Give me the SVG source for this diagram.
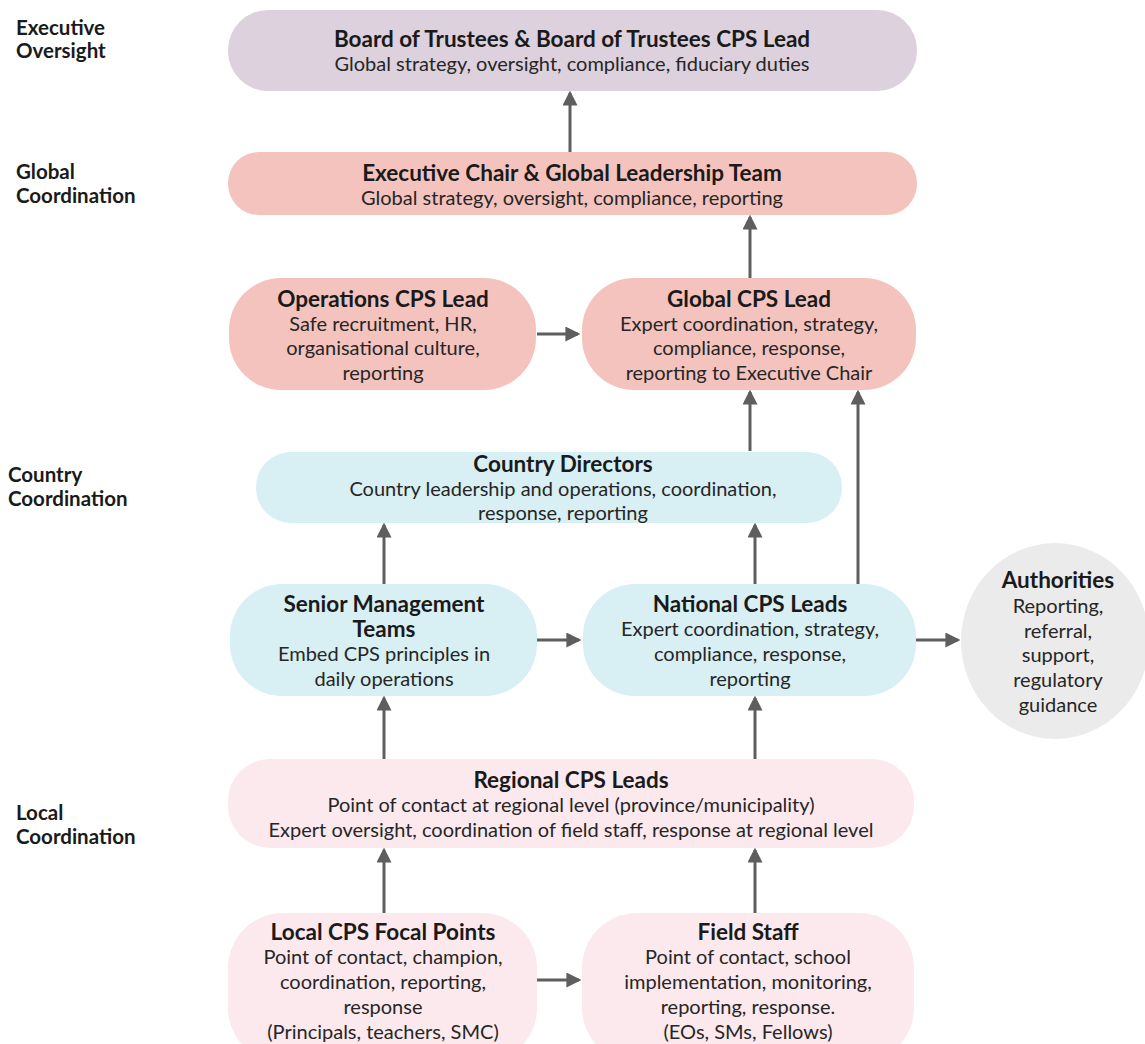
<svg xmlns="http://www.w3.org/2000/svg" width="1145" height="1044" viewBox="0 0 1145 1044">
<style>
text{font-family:Lato,"Open Sans","Liberation Sans",sans-serif;fill:#1a1a1a;text-anchor:middle}
.t{font-weight:bold;font-size:22.5px}
.s{font-size:20px;fill:#262626}
.lbl{font-weight:bold;font-size:20.5px;text-anchor:start}
.board{fill:#dcd1dc}
.glob{fill:#f4c3bd}
.ctry{fill:#d8eff4}
.loc{fill:#fbe9ee}
.auth{fill:#ebebeb}
.c{stroke:#5e5e5e;stroke-width:3;fill:none;marker-end:url(#ah)}
</style>
<defs>
<marker id="ah" markerWidth="5" markerHeight="5" refX="4.2" refY="2.5" orient="auto" markerUnits="strokeWidth">
<path d="M0,0 L5,2.5 L0,5 Z" fill="#5e5e5e"/>
</marker>
</defs>
<rect width="1145" height="1044" fill="#ffffff"/>
<g id="labels">
<text class="lbl" x="16" y="35">Executive</text>
<text class="lbl" x="16" y="58">Oversight</text>
<text class="lbl" x="16" y="179">Global</text>
<text class="lbl" x="16" y="203">Coordination</text>
<text class="lbl" x="8" y="482">Country</text>
<text class="lbl" x="8" y="506">Coordination</text>
<text class="lbl" x="16" y="820">Local</text>
<text class="lbl" x="16" y="844">Coordination</text>
</g>
<g id="connectors">
<line class="c" x1="570" y1="152" x2="570" y2="93"/>
<line class="c" x1="750" y1="278" x2="750" y2="217"/>
<line class="c" x1="537" y1="334" x2="578" y2="334"/>
<line class="c" x1="750" y1="451" x2="750" y2="392"/>
<line class="c" x1="858" y1="584" x2="858" y2="392"/>
<line class="c" x1="384" y1="584" x2="384" y2="525"/>
<line class="c" x1="755" y1="584" x2="755" y2="525"/>
<line class="c" x1="537" y1="640" x2="579" y2="640"/>
<line class="c" x1="916" y1="640" x2="958" y2="640"/>
<line class="c" x1="384" y1="759" x2="384" y2="698"/>
<line class="c" x1="755" y1="759" x2="755" y2="698"/>
<line class="c" x1="384" y1="913" x2="384" y2="850"/>
<line class="c" x1="755" y1="913" x2="755" y2="850"/>
<line class="c" x1="537" y1="980" x2="579" y2="980"/>
</g>
<g id="board">
<rect class="board" x="228" y="10" width="689" height="81" rx="40"/>
<text class="t" x="572" y="47">Board of Trustees &amp; Board of Trustees CPS Lead</text>
<text class="s" x="572" y="71">Global strategy, oversight, compliance, fiduciary duties</text>
</g>
<g id="exec">
<rect class="glob" x="228" y="152" width="689" height="63" rx="31"/>
<text class="t" x="572" y="181">Executive Chair &amp; Global Leadership Team</text>
<text class="s" x="572" y="205">Global strategy, oversight, compliance, reporting</text>
</g>
<g id="ops">
<rect class="glob" x="229" y="278" width="307" height="112" rx="52"/>
<text class="t" x="383" y="307">Operations CPS Lead</text>
<text class="s" x="383" y="331">Safe recruitment, HR,</text>
<text class="s" x="383" y="355">organisational culture,</text>
<text class="s" x="383" y="380">reporting</text>
</g>
<g id="globalcps">
<rect class="glob" x="582" y="278" width="334" height="112" rx="52"/>
<text class="t" x="749" y="307">Global CPS Lead</text>
<text class="s" x="749" y="331">Expert coordination, strategy,</text>
<text class="s" x="749" y="355">compliance, response,</text>
<text class="s" x="749" y="380">reporting to Executive Chair</text>
</g>
<g id="country">
<rect class="ctry" x="256" y="452" width="586" height="71" rx="35"/>
<text class="t" x="563" y="472">Country Directors</text>
<text class="s" x="563" y="496">Country leadership and operations, coordination,</text>
<text class="s" x="563" y="520">response, reporting</text>
</g>
<g id="smt">
<rect class="ctry" x="230" y="584" width="307" height="112" rx="52"/>
<text class="t" x="384" y="612">Senior Management</text>
<text class="t" x="384" y="637">Teams</text>
<text class="s" x="384" y="661">Embed CPS principles in</text>
<text class="s" x="384" y="686">daily operations</text>
</g>
<g id="national">
<rect class="ctry" x="583" y="584" width="333" height="112" rx="52"/>
<text class="t" x="750" y="612">National CPS Leads</text>
<text class="s" x="750" y="636">Expert coordination, strategy,</text>
<text class="s" x="750" y="661">compliance, response,</text>
<text class="s" x="750" y="686">reporting</text>
</g>
<g id="authorities">
<ellipse class="auth" cx="1055" cy="641" rx="94" ry="98"/>
<text class="t" x="1058" y="588">Authorities</text>
<text class="s" x="1058" y="613">Reporting,</text>
<text class="s" x="1058" y="638">referral,</text>
<text class="s" x="1058" y="662">support,</text>
<text class="s" x="1058" y="687">regulatory</text>
<text class="s" x="1058" y="712">guidance</text>
</g>
<g id="regional">
<rect class="loc" x="228" y="759" width="686" height="89" rx="42"/>
<text class="t" x="571" y="788">Regional CPS Leads</text>
<text class="s" x="571" y="812">Point of contact at regional level (province/municipality)</text>
<text class="s" x="571" y="837">Expert oversight, coordination of field staff, response at regional level</text>
</g>
<g id="localfp">
<rect class="loc" x="228" y="913" width="309" height="150" rx="55"/>
<text class="t" x="383" y="940">Local CPS Focal Points</text>
<text class="s" x="383" y="964">Point of contact, champion,</text>
<text class="s" x="383" y="989">coordination, reporting,</text>
<text class="s" x="383" y="1014">response</text>
<text class="s" x="383" y="1039">(Principals, teachers, SMC)</text>
</g>
<g id="field">
<rect class="loc" x="582" y="913" width="332" height="150" rx="55"/>
<text class="t" x="748" y="940">Field Staff</text>
<text class="s" x="748" y="964">Point of contact, school</text>
<text class="s" x="748" y="989">implementation, monitoring,</text>
<text class="s" x="748" y="1014">reporting, response.</text>
<text class="s" x="748" y="1039">(EOs, SMs, Fellows)</text>
</g>
</svg>
